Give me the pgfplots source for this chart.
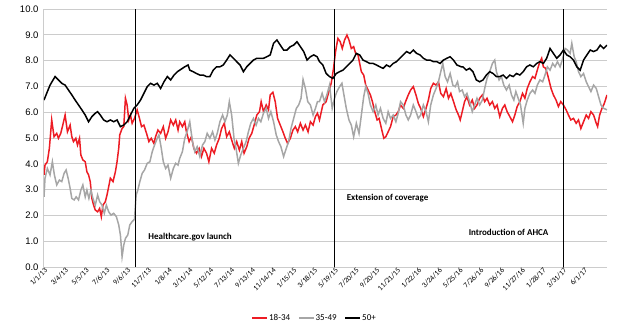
\documentclass[border=0pt]{standalone}
\usepackage{fontspec}
\setmainfont{Carlito}
\newfontfamily\arialf{Liberation Sans}
\usepackage{pgfplots}
\pgfplotsset{compat=1.18}
\definecolor{cred}{RGB}{237,28,36}
\definecolor{cgray}{RGB}{166,166,166}
\definecolor{cgrid}{RGB}{204,204,204}
\begin{document}
\begin{tikzpicture}[x=1pt,y=1pt]
\path[use as bounding box] (0,0) rectangle (625,333);
\begin{axis}[
  at={(44pt,66pt)}, anchor=south west, scale only axis,
  width=563pt, height=258pt,
  xmin=0, xmax=1680, ymin=0, ymax=10,
  axis x line*=bottom, axis y line*=left,
  axis line style={-, draw=cgrid, line width=1pt},
  tick style={draw=none},
  ytick={0,1,...,10},
  ymajorgrids, grid style={cgrid, line width=1pt},
  /pgf/number format/assume math mode=true,
  yticklabel style={font=\arialf\fontsize{9.5}{10}\selectfont, xshift=-2pt,
    /pgf/number format/.cd, fixed, fixed zerofill, precision=1},
  xtick={0,62,...,1612},
  xticklabels={1/1/13,3/4/13,5/5/13,7/6/13,9/6/13,11/7/13,1/8/14,3/11/14,5/12/14,7/13/14,9/13/14,11/14/14,1/15/15,3/18/15,5/19/15,7/20/15,9/20/15,11/21/15,1/22/16,3/24/16,5/25/16,7/26/16,9/26/16,11/27/16,1/28/17,3/31/17,6/1/17},
  xticklabel style={rotate=45, anchor=east, font=\fontsize{7.5}{8}\selectfont, yshift=-3pt, xshift=1pt, inner sep=1pt},
  legend style={at={(0.48,-0.198)}, anchor=center, draw=none, fill=none,
    legend columns=3, font=\fontsize{9}{10}\selectfont,
    /tikz/every even column/.append style={column sep=7pt},
    nodes={inner sep=1pt}},
  legend image code/.code={\draw[#1] (0pt,0pt) -- (15pt,0pt);},
  every axis plot/.append style={line width=1.5pt, mark=none},
]
\addplot[cred] coordinates {
(0,3.57)(3,3.95)(10,4.08)(16,4.60)(23,5.70)(30,5.05)(38,5.18)(43,4.99)(50,5.18)(56,5.50)
(63,5.89)(70,5.24)(78,5.50)(83,5.05)(88,4.86)(95,4.99)(100,4.73)(106,4.99)(110,4.34)(116,4.15)
(123,4.08)(128,3.69)(133,3.57)(138,3.31)(143,2.66)(148,2.40)(153,2.21)(160,2.14)(166,2.27)(171,1.95)
(176,2.40)(183,2.53)(188,2.79)(193,3.11)(198,3.44)(206,3.31)(213,3.69)(218,4.08)(223,4.60)(226,5.12)
(233,5.37)(238,5.44)(243,6.54)(248,6.28)(253,5.70)(258,5.89)(263,5.57)(270,5.76)(278,6.09)(285,5.76)
(291,5.44)(298,5.50)(306,5.18)(313,4.86)(320,4.99)(328,4.79)(333,5.05)(340,5.31)(348,5.18)(356,5.44)
(363,4.99)(370,5.24)(378,5.70)(386,5.50)(393,5.70)(400,5.31)(405,5.63)(413,5.44)(420,5.63)(425,5.24)
(433,4.86)(440,5.05)(447,4.60)(455,4.41)(463,4.60)(470,4.28)(477,4.60)(485,4.41)(492,4.08)(500,4.60)
(508,4.41)(515,4.73)(523,4.99)(530,5.37)(538,5.57)(545,5.05)(553,5.24)(560,4.92)(568,4.60)(575,4.86)
(583,4.53)(590,4.86)(597,4.41)(605,4.66)(612,4.99)(620,5.18)(627,5.50)(635,5.89)(643,6.02)(648,6.41)
(655,6.02)(663,6.28)(670,6.09)(675,6.67)(683,6.77)(690,6.41)(697,5.76)(705,5.50)(713,5.24)(720,4.99)
(727,4.79)(735,4.99)(743,5.31)(750,5.44)(757,5.24)(765,5.57)(773,5.31)(780,5.50)(788,5.24)(795,5.63)
(803,5.50)(810,5.83)(816,5.96)(822,5.70)(832,6.28)(842,6.41)(850,6.80)(857,7.12)(864,7.70)(870,8.35)
(877,8.86)(884,8.73)(890,8.47)(897,8.80)(904,8.99)(910,8.80)(917,8.47)(924,8.54)(930,8.28)(937,8.22)
(942,7.89)(947,7.57)(954,7.44)(960,7.05)(967,6.86)(974,6.67)(980,6.41)(987,6.02)(994,5.70)(1000,5.76)
(1007,5.37)(1014,4.99)(1020,5.05)(1027,5.24)(1034,5.44)(1042,5.83)(1050,5.89)(1057,6.02)(1064,6.28)(1072,6.15)
(1079,6.41)(1087,6.67)(1094,6.86)(1102,6.99)(1110,6.67)(1117,6.34)(1124,6.15)(1132,5.83)(1140,6.15)(1147,6.47)
(1154,6.92)(1162,7.12)(1170,7.05)(1177,7.18)(1184,6.73)(1192,6.60)(1200,6.92)(1207,6.54)(1214,6.73)(1222,6.41)
(1230,6.09)(1237,5.89)(1242,5.70)(1248,6.02)(1255,6.41)(1262,6.60)(1270,6.28)(1278,6.47)(1285,6.15)(1292,6.28)
(1300,6.54)(1308,6.67)(1315,6.41)(1322,6.54)(1330,6.28)(1338,6.41)(1345,6.15)(1352,6.28)(1360,5.83)(1368,6.15)
(1375,6.28)(1382,6.02)(1390,5.83)(1398,5.63)(1405,5.89)(1412,6.22)(1420,6.41)(1428,6.73)(1435,6.54)(1442,6.92)
(1450,7.18)(1458,7.38)(1465,7.31)(1472,7.63)(1478,7.89)(1485,8.09)(1490,7.76)(1497,7.70)(1503,7.44)(1508,7.18)
(1513,6.92)(1520,6.67)(1528,6.47)(1535,6.22)(1542,6.41)(1550,6.28)(1558,6.09)(1565,5.89)(1572,5.70)(1580,5.76)
(1588,5.57)(1595,5.70)(1602,5.37)(1610,5.63)(1618,5.89)(1625,5.76)(1632,6.02)(1640,5.89)(1648,5.57)(1652,5.44)
(1658,5.89)(1665,6.15)(1672,6.34)(1680,6.67)
};
\addlegendentry{18-34}
\addplot[cgray] coordinates {
(0,2.72)(3,3.44)(10,3.82)(18,3.57)(25,4.08)(31,3.57)(38,3.18)(46,3.37)(53,3.31)(60,3.63)
(66,3.76)(72,3.44)(78,3.05)(83,2.66)(90,2.60)(96,2.72)(103,2.60)(110,2.98)(116,3.18)(123,2.72)
(128,2.98)(134,2.66)(140,2.98)(146,2.66)(153,2.40)(160,2.79)(166,2.53)(173,2.40)(180,2.08)(186,2.40)
(193,2.14)(200,2.01)(208,2.08)(216,1.95)(223,1.63)(228,1.24)(233,0.40)(238,0.85)(243,1.11)(250,1.24)
(256,1.63)(263,1.76)(270,1.85)(275,2.79)(280,2.98)(286,3.31)(293,3.63)(300,3.76)(308,4.02)(316,4.08)
(323,4.47)(330,4.73)(338,4.99)(343,5.12)(350,4.60)(356,4.08)(363,3.82)(370,3.95)(378,3.44)(386,3.82)
(393,4.02)(400,3.95)(405,4.21)(413,4.47)(420,4.99)(427,5.24)(435,5.63)(443,4.86)(450,4.47)(457,4.66)
(465,4.28)(473,4.73)(480,4.86)(487,5.18)(495,4.99)(503,5.24)(510,4.92)(517,5.18)(525,5.63)(533,5.89)
(540,5.63)(547,5.89)(553,6.41)(560,5.89)(567,4.99)(573,4.60)(580,4.02)(587,4.34)(595,4.60)(603,4.86)
(610,5.24)(617,5.57)(625,5.76)(633,5.50)(640,5.76)(647,5.63)(655,5.96)(663,6.15)(670,5.76)(677,6.02)
(685,5.63)(693,5.12)(700,4.86)(707,4.66)(715,4.28)(723,4.60)(730,4.86)(737,5.37)(745,5.76)(753,6.15)
(760,6.28)(767,6.54)(773,7.27)(780,6.92)(787,6.41)(795,6.28)(803,5.89)(810,6.15)(816,6.41)(822,6.41)
(830,6.73)(837,6.41)(844,6.67)(852,7.05)(860,6.15)(867,6.54)(874,6.80)(882,6.99)(889,7.12)(895,6.67)
(902,6.15)(910,5.70)(917,5.50)(924,5.05)(932,5.57)(940,5.18)(947,5.89)(954,6.60)(960,6.99)(967,6.73)
(974,6.28)(982,6.02)(990,6.28)(997,5.89)(1004,6.15)(1012,5.76)(1020,5.57)(1027,6.02)(1034,5.76)(1042,5.89)
(1050,5.63)(1057,5.96)(1064,6.41)(1072,6.28)(1080,5.89)(1087,5.70)(1094,5.89)(1102,6.28)(1110,6.02)(1117,5.76)
(1124,5.89)(1132,6.28)(1140,6.02)(1147,5.63)(1154,6.28)(1162,6.67)(1170,6.92)(1177,7.18)(1184,7.57)(1190,7.89)
(1197,7.38)(1204,7.18)(1212,7.50)(1220,7.05)(1227,6.99)(1234,7.18)(1240,6.80)(1248,6.86)(1255,6.60)(1262,6.73)
(1270,6.41)(1278,6.02)(1285,6.28)(1292,6.54)(1300,6.28)(1308,6.47)(1315,6.92)(1322,7.31)(1330,7.57)(1338,7.89)
(1345,8.02)(1350,7.57)(1358,7.25)(1365,7.38)(1372,7.05)(1380,6.86)(1388,7.05)(1395,6.67)(1402,6.47)(1408,6.80)
(1415,6.54)(1422,6.28)(1430,5.57)(1435,6.15)(1442,6.47)(1450,6.73)(1458,6.86)(1465,6.73)(1472,7.05)(1480,7.25)
(1488,7.18)(1495,7.44)(1502,7.76)(1510,7.63)(1518,7.89)(1525,7.76)(1532,7.96)(1540,7.76)(1548,8.09)(1555,8.47)
(1562,8.41)(1570,8.28)(1575,8.67)(1582,8.15)(1588,7.96)(1595,7.57)(1602,7.38)(1610,7.50)(1618,7.18)(1625,6.99)
(1632,6.80)(1640,7.05)(1648,6.92)(1655,6.60)(1662,6.28)(1670,6.15)(1680,6.09)
};
\addlegendentry{35-49}
\addplot[black] coordinates {
(0,6.47)(8,6.73)(18,7.05)(33,7.38)(43,7.25)(53,7.12)(63,7.05)(73,6.86)(83,6.67)(93,6.47)
(103,6.28)(113,6.09)(123,5.89)(133,5.63)(143,5.83)(153,5.96)(160,6.02)(168,5.89)(178,5.70)(188,5.63)
(198,5.70)(208,5.63)(218,5.70)(228,5.44)(238,5.50)(248,5.63)(258,5.89)(268,6.15)(278,6.28)(288,6.47)
(298,6.73)(308,6.99)(318,7.12)(328,7.05)(338,7.12)(348,6.92)(358,7.18)(368,7.38)(378,7.25)(388,7.44)
(398,7.57)(405,7.63)(420,7.76)(430,7.83)(435,7.63)(445,7.57)(455,7.50)(465,7.44)(475,7.44)(485,7.38)
(495,7.38)(505,7.63)(515,7.76)(525,7.76)(535,7.83)(545,8.02)(555,8.22)(565,8.09)(575,7.96)(585,7.83)
(595,7.57)(605,7.76)(615,7.89)(625,8.02)(635,8.09)(645,8.09)(655,8.09)(665,8.15)(675,8.22)(685,8.67)
(695,8.80)(705,8.60)(715,8.41)(725,8.41)(735,8.54)(745,8.60)(755,8.73)(765,8.54)(775,8.35)(785,8.02)
(795,8.15)(805,8.22)(815,8.15)(822,7.96)(832,7.83)(842,7.50)(852,7.38)(862,7.31)(872,7.50)(882,7.57)
(892,7.63)(902,7.76)(912,7.89)(922,8.02)(932,8.28)(942,8.22)(952,8.02)(962,7.96)(972,7.89)(982,7.89)
(992,7.83)(1002,7.76)(1012,7.70)(1022,7.83)(1032,7.76)(1042,7.89)(1052,7.96)(1062,8.09)(1072,8.22)(1082,8.35)
(1092,8.28)(1102,8.41)(1112,8.28)(1122,8.22)(1132,8.09)(1142,8.02)(1152,8.02)(1162,7.96)(1172,7.96)(1182,7.89)
(1192,8.02)(1202,8.09)(1212,8.15)(1222,8.02)(1232,7.83)(1245,7.76)(1250,7.76)(1260,7.63)(1270,7.70)(1280,7.57)
(1290,7.25)(1300,7.18)(1310,7.25)(1320,7.44)(1330,7.57)(1340,7.50)(1350,7.38)(1360,7.38)(1370,7.44)(1380,7.31)
(1390,7.44)(1400,7.38)(1410,7.50)(1420,7.44)(1430,7.57)(1440,7.76)(1450,7.83)(1460,7.76)(1470,7.89)(1480,7.96)
(1490,7.89)(1500,8.09)(1510,8.47)(1520,8.28)(1530,8.09)(1540,8.22)(1550,8.41)(1560,8.22)(1570,8.15)(1580,8.02)
(1590,7.76)(1600,7.63)(1610,8.02)(1620,8.22)(1630,8.41)(1640,8.35)(1650,8.41)(1660,8.60)(1670,8.47)(1680,8.60)
};
\addlegendentry{50+}
\addplot[black, line width=1.5pt, forget plot] coordinates {(273,0) (273,10)};
\addplot[black, line width=1.5pt, forget plot] coordinates {(867,0) (867,10)};
\addplot[black, line width=1.5pt, forget plot] coordinates {(1550,0) (1550,10)};
\node[anchor=west, font=\bfseries\fontsize{9}{10}\selectfont] at (axis cs:301,1.15) {Healthcare.gov launch};
\node[anchor=west, font=\bfseries\fontsize{9}{10}\selectfont] at (axis cs:893,2.68) {Extension of coverage};
\node[anchor=west, font=\bfseries\fontsize{9}{10}\selectfont] at (axis cs:1257,1.35) {Introduction of AHCA};
\end{axis}
\end{tikzpicture}
\end{document}
